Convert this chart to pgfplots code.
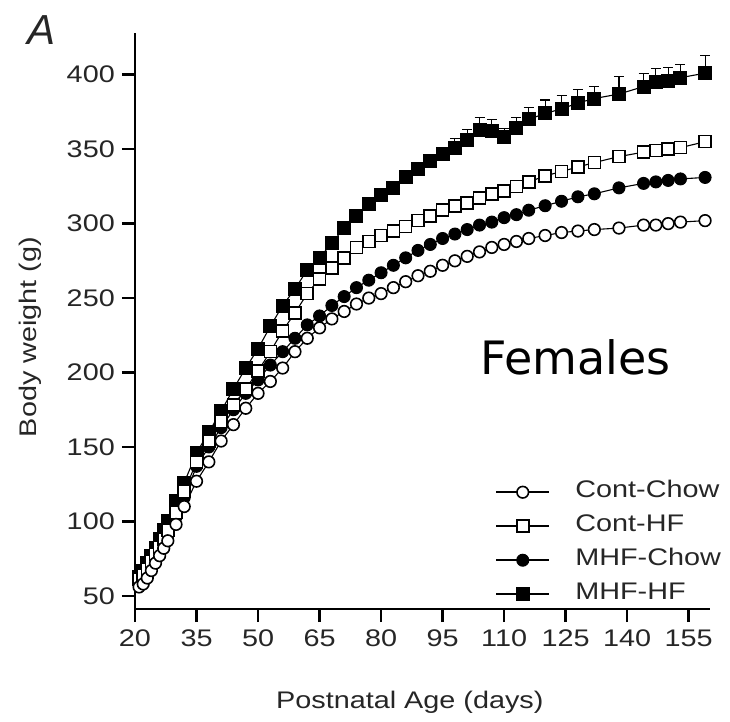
\documentclass[border=0pt]{standalone}
\usepackage{pgfplots}
\pgfplotsset{compat=1.18}
\usepackage{pgfplotstable}
\usepackage{fontspec}
\setmainfont{Liberation Sans}
\newfontfamily\widesans{Liberation Sans}[FakeStretch=1.2]
\newfontfamily\dejavu{DejaVu Sans}

\pgfplotstableread{
day mhfhf err cohf mhfch coch
21 63 2 61 60 56
22 67 2 64 63 58
23 72 2 68 67 62
24 77 2 73 71 67
25 82 2 78 76 72
26 88 2 83 81 77
27 94 2 88 86 82
28 100 2 94 91 87
30 114 2 106 103 98
32 126 2 120 116 110
35 146 2 140 137 127
38 160 2 154 150 140
41 174 2 167 163 154
44 189 2 178 175 165
47 203 3 189 186 176
50 216 3 201 195 186
53 231 3 214 205 194
56 245 3 228 214 203
59 256 3 240 223 214
62 269 3 253 232 223
65 277 3 263 238 230
68 287 3 270 245 236
71 297 3 277 251 241
74 305 3 284 257 246
77 313 3 288 262 250
80 319 3 292 267 253
83 324 3 295 272 257
86 331 3 298 277 261
89 337 3 302 282 265
92 342 4 305 286 268
95 347 4 309 290 272
98 351 6 312 293 275
101 356 7 314 296 278
104 363 8 317 299 281
107 362 8 320 301 284
110 358 6 322 304 286
113 364 7 325 306 288
116 370 8 328 309 290
120 374 9 332 312 292
124 377 9 335 315 294
128 381 9 338 318 295
132 384 8 341 320 296
138 387 12 345 324 297
144 392 9 348 327 299
147 395 9 349 328 299
150 396 9 350 329 300
153 398 9 351 330 301
159 401 12 355 331 302
}\datatable

\begin{document}
\begin{tikzpicture}
\useasboundingbox (-135bp,-113bp) rectangle (595bp,609bp);
\begin{axis}[
  width=575bp, height=576bp, scale only axis,
  xmin=20, xmax=160.2, ymin=41.2, ymax=428,
  axis lines*=left,
  axis line style={line width=2.8bp, -},
  xtick={20,35,...,155}, ytick={50,100,...,400},
  tick align=outside, major tick length=13bp,
  tick style={line width=2.4bp, black},
  minor tick num=0,
  /pgf/number format/assume math mode=true,
  ticklabel style={font=\widesans\fontsize{24bp}{28bp}\selectfont, text=black!85},
  yticklabel style={inner sep=0pt, xshift=-7bp},
  xticklabel style={inner sep=0pt, yshift=-8bp},
  xlabel={Postnatal Age (days)},
  ylabel={Body weight (g)},
  label style={font=\widesans\fontsize{24bp}{28bp}\selectfont, text=black!85},
  xlabel style={at={(axis description cs:0.478,-0.1615)}, anchor=center},
  ylabel style={at={(axis description cs:-0.1826,0.472)}, anchor=center, rotate=0},
  clip=false,
  reverse legend,
  legend style={draw=none, fill=none, at={(axis description cs:0.626,0.2326)}, anchor=north west,
     inner sep=0pt, row sep=0pt,
     font=\widesans\fontsize{24bp}{28bp}\selectfont, text=black!85,
     nodes={inner sep=0pt, text height=22bp, text depth=12bp}},
  legend cell align=left,
  legend image code/.code={
     \draw[mark repeat=2, mark phase=2, line width=2.2bp, #1] plot coordinates {(0bp,0bp) (26.5bp,0bp) (53bp,0bp)};},
]
\addplot[black, line width=1.1bp, mark=square*, mark size=6.5bp, mark options={solid, fill=black, draw=black, line width=1bp},
  error bars/.cd, y dir=plus, y explicit,
  error bar style={line width=1.1bp, black},
  error mark options={rotate=90, mark size=5bp, line width=1.1bp, black}]
  table[x=day, y=mhfhf, y error=err] {\datatable};
\addlegendentry{\hspace{25bp}MHF-HF}
\addplot[black, line width=1.1bp, mark=*, mark size=6bp, mark options={solid, fill=black, draw=black, line width=1bp}]
  table[x=day, y=mhfch] {\datatable};
\addlegendentry{\hspace{25bp}MHF-Chow}
\addplot[black, line width=1.1bp, mark=square*, mark size=6bp, mark options={solid, fill=white, draw=black, line width=1.6bp}]
  table[x=day, y=cohf] {\datatable};
\addlegendentry{\hspace{25bp}Cont-HF}
\addplot[black, line width=1.1bp, mark=*, mark size=5.8bp, mark options={solid, fill=white, draw=black, line width=1.6bp}]
  table[x=day, y=coch] {\datatable};
\addlegendentry{\hspace{25bp}Cont-Chow}
\end{axis}
\node[anchor=base west, inner sep=0pt, font=\dejavu\fontsize{46bp}{50bp}\selectfont] at (345bp,234bp) {Females};
\node[anchor=base west, inner sep=0pt, font=\itshape\fontsize{42bp}{46bp}\selectfont, text=black!85] at (-108bp,564bp) {A};
\end{tikzpicture}
\end{document}
